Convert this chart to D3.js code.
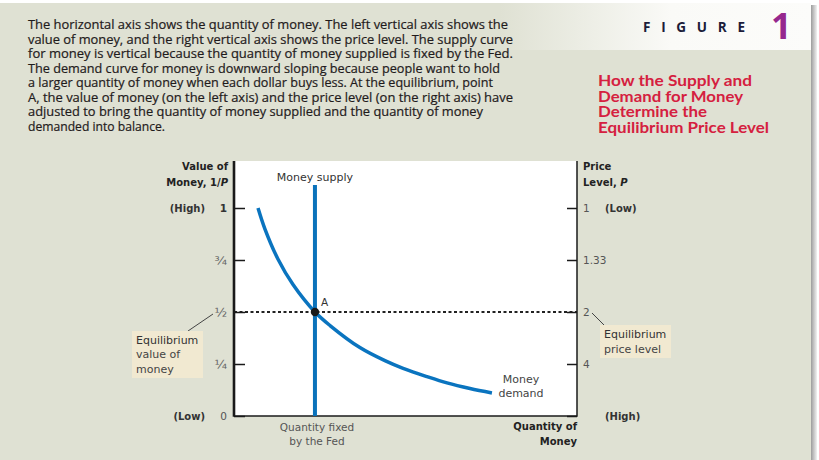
<!DOCTYPE html>
<html>
<head>
<meta charset="utf-8">
<script src="https://cdn.jsdelivr.net/npm/d3@7"></script>
<style>
  html, body { margin: 0; padding: 0; background: #ffffff; }
  svg { display: block; }
</style>
</head>
<body>
<script>
// ---------- DATA ----------
const demandQ = [7.0, 9.0, 12.8, 17.2, 23.6, 28.0, 36.7, 44.0, 49.3, 56.3, 62.1, 68.8, 75.2];
const demandV = [1.0, 0.90, 0.755, 0.632, 0.5, 0.435, 0.329, 0.266, 0.229, 0.189, 0.159, 0.132, 0.111];
const supplyQ = 23.6;
const supplyTopV = 1.11;
const equilibriumV = 0.5;
const leftTickValues = [0, 0.25, 0.5, 0.75, 1];
const leftTickLabels = ["0", "\u00BC", "\u00BD", "\u00BE", "1"];
const rightTickLabels = ["", "4", "2", "1.33", "1"];
const descLines = [
  "The horizontal axis shows the quantity of money. The left vertical axis shows the",
  "value of money, and the right vertical axis shows the price level. The supply curve",
  "for money is vertical because the quantity of money supplied is fixed by the Fed.",
  "The demand curve for money is downward sloping because people want to hold",
  "a larger quantity of money when each dollar buys less. At the equilibrium, point",
  "A, the value of money (on the left axis) and the price level (on the right axis) have",
  "adjusted to bring the quantity of money supplied and the quantity of money",
  "demanded into balance."
];
const descLineEnds = [508, 513, 513, 500, 493, 513, 483, 165];
const titleLines = ["How the Supply and", "Demand for Money", "Determine the", "Equilibrium Price Level"];
const titleLineEnds = [752, 743, 707, 769];

// ---------- SETUP ----------
const W = 819, H = 460;
const svg = d3.select("body").append("svg").attr("width", W).attr("height", H);
const defs = svg.append("defs");
const hg = defs.append("linearGradient").attr("id", "hdr").attr("x1", "0").attr("x2", "1").attr("y1", "0").attr("y2", "0");
hg.append("stop").attr("offset", "0").attr("stop-color", "#dfe1d3");
hg.append("stop").attr("offset", "0.55").attr("stop-color", "#fafaf7");
hg.append("stop").attr("offset", "1").attr("stop-color", "#fcfcfa");
const sg = defs.append("linearGradient").attr("id", "shd").attr("x1", "0").attr("x2", "1").attr("y1", "0").attr("y2", "0");
sg.append("stop").attr("offset", "0").attr("stop-color", "#9c9c9c");
sg.append("stop").attr("offset", "1").attr("stop-color", "#f2f2f2");

svg.append("rect").attr("x", 0).attr("y", 0).attr("width", W).attr("height", H).attr("fill", "#ffffff");
svg.append("rect").attr("x", 0).attr("y", 3).attr("width", 811).attr("height", H - 3).attr("fill", "#dfe1d3");
svg.append("rect").attr("x", 500).attr("y", 3).attr("width", 311).attr("height", 47).attr("fill", "url(#hdr)");
svg.append("rect").attr("x", 811).attr("y", 5).attr("width", 6).attr("height", H - 5).attr("fill", "url(#shd)");

// ---------- HEADER TEXT ----------
const desc = svg.append("g").attr("font-family", "'Open Sans', 'Noto Sans', sans-serif")
  .attr("font-size", 12.2).attr("fill", "#1f1b1c").attr("stroke", "#1f1b1c").attr("stroke-width", 0.2);
descLines.forEach((t, i) => {
  desc.append("text").attr("x", 28).attr("y", 29 + i * 14.57)
    .attr("textLength", descLineEnds[i] - 28).attr("lengthAdjust", "spacingAndGlyphs").text(t);
});

svg.append("text").attr("x", 643).attr("y", 32)
  .attr("font-family", "'Open Sans', sans-serif").attr("font-weight", "bold").attr("font-size", 13.5)
  .attr("fill", "#1c1c3a").attr("textLength", 102).attr("lengthAdjust", "spacing").text("FIGURE");
svg.append("text").attr("x", 771).attr("y", 39)
  .attr("font-family", "'Open Sans', sans-serif").attr("font-weight", "bold").attr("font-size", 36)
  .attr("fill", "#96288e").text("1");

const ttl = svg.append("g").attr("font-family", "Lato, 'Open Sans', sans-serif")
  .attr("font-weight", "bold").attr("font-size", 14.5).attr("fill", "#d5203f");
titleLines.forEach((t, i) => {
  ttl.append("text").attr("x", 598).attr("y", 86 + i * 15.5)
    .attr("textLength", titleLineEnds[i] - 598).attr("lengthAdjust", "spacingAndGlyphs").text(t);
});

// ---------- SCALES ----------
const x = d3.scaleLinear().domain([0, 100]).range([234, 577]);
const y = d3.scaleLinear().domain([0, 1]).range([416, 208]);
const yTopV = 1.226;

// plot background
svg.append("rect").attr("x", x(0)).attr("y", y(yTopV))
  .attr("width", x(100) - x(0)).attr("height", y(0) - y(yTopV)).attr("fill", "#ffffff");

// annotation boxes (behind their text)
svg.append("line").attr("x1", 188).attr("y1", 331).attr("x2", 213).attr("y2", 314)
  .attr("stroke", "#444").attr("stroke-width", 1);
svg.append("rect").attr("x", 132).attr("y", 331).attr("width", 71).attr("height", 47).attr("fill", "#f1e9d1");
svg.append("line").attr("x1", 592).attr("y1", 313).attr("x2", 604).attr("y2", 325)
  .attr("stroke", "#444").attr("stroke-width", 1);
svg.append("rect").attr("x", 600).attr("y", 325).attr("width", 71).attr("height", 33).attr("fill", "#f1e9d1");

// dotted equilibrium line
svg.append("line").attr("x1", x(0)).attr("x2", x(100)).attr("y1", y(equilibriumV)).attr("y2", y(equilibriumV))
  .attr("stroke", "#222").attr("stroke-width", 1.8).attr("stroke-dasharray", "3,2.5");

// ---------- AXES ----------
const font = "'DejaVu Sans', Verdana, sans-serif";
const leftAxis = d3.axisLeft(y).tickValues(leftTickValues)
  .tickFormat((d, i) => leftTickLabels[i]).tickSizeInner(-11).tickSizeOuter(0).tickPadding(7);
const gL = svg.append("g").attr("transform", `translate(${x(0)},0)`).call(leftAxis);
gL.select(".domain").remove();
gL.selectAll(".tick line").attr("stroke", "#1a1a1a").attr("stroke-width", 1.5);
gL.selectAll(".tick text").attr("font-family", font).attr("font-size", 10.5).attr("fill", "#555");
gL.selectAll(".tick text").filter((d) => d > 0 && d < 1).attr("font-size", 13).attr("fill", "#666");
gL.selectAll(".tick text").filter((d) => d === 1).attr("font-weight", "bold").attr("fill", "#333");

const rightAxis = d3.axisRight(y).tickValues(leftTickValues)
  .tickFormat((d, i) => rightTickLabels[i]).tickSizeInner(-10).tickSizeOuter(0).tickPadding(6);
const gR = svg.append("g").attr("transform", `translate(${x(100)},0)`).call(rightAxis);
gR.select(".domain").remove();
gR.selectAll(".tick line").attr("stroke", "#1a1a1a").attr("stroke-width", 1.5);
gR.selectAll(".tick text").attr("font-family", font).attr("font-size", 10.5).attr("fill", "#555");

// axis lines
svg.append("line").attr("x1", x(0)).attr("x2", x(0)).attr("y1", y(yTopV)).attr("y2", y(0) + 0.75)
  .attr("stroke", "#1a1a1a").attr("stroke-width", 2.6);
svg.append("line").attr("x1", x(100)).attr("x2", x(100)).attr("y1", y(yTopV)).attr("y2", y(0) + 0.75)
  .attr("stroke", "#1a1a1a").attr("stroke-width", 1.5);
svg.append("line").attr("x1", x(0)).attr("x2", x(100)).attr("y1", y(0)).attr("y2", y(0))
  .attr("stroke", "#1a1a1a").attr("stroke-width", 1.5);

// ---------- CURVES ----------
svg.append("line").attr("x1", x(supplyQ)).attr("x2", x(supplyQ)).attr("y1", y(supplyTopV)).attr("y2", y(0))
  .attr("stroke", "#0a72bb").attr("stroke-width", 4);

const demand = demandQ.map((q, i) => [q, demandV[i]]);
svg.append("path").datum(demand)
  .attr("d", d3.line().x(d => x(d[0])).y(d => y(d[1])).curve(d3.curveCatmullRom.alpha(0.5)))
  .attr("fill", "none").attr("stroke", "#0a74bf").attr("stroke-width", 3.5);

svg.append("circle").attr("cx", x(supplyQ)).attr("cy", y(equilibriumV)).attr("r", 4.2).attr("fill", "#1a1a1a");
svg.append("text").attr("x", x(supplyQ) + 6).attr("y", y(equilibriumV) - 6)
  .attr("font-family", font).attr("font-size", 10.5).attr("fill", "#333").text("A");

// ---------- LABELS ----------
const lab = svg.append("g").attr("font-family", font);
function t(xp, yp, s, opts = {}) {
  return lab.append("text").attr("x", xp).attr("y", yp)
    .attr("font-size", opts.size || 10.5)
    .attr("font-weight", opts.bold ? "bold" : "normal")
    .attr("text-anchor", opts.anchor || "start")
    .attr("fill", opts.fill || "#333").text(s);
}
// left axis title
t(228, 170, "Value of", { bold: true, anchor: "end", size: 10, fill: "#222" });
const vm = t(228, 186, "Money, 1/", { bold: true, anchor: "end", size: 10, fill: "#222" });
vm.append("tspan").attr("font-style", "italic").text("P");
// right axis title
t(583, 170, "Price", { bold: true, size: 10, fill: "#222" });
const pl = t(583, 186, "Level, ", { bold: true, size: 10, fill: "#222" });
pl.append("tspan").attr("font-style", "italic").text("P");

t(205, y(1) + 4, "(High)", { bold: true, anchor: "end", size: 10, fill: "#333" });
t(205, y(0) + 4, "(Low)", { bold: true, anchor: "end", size: 10, fill: "#333" });
t(605, y(1) + 4, "(Low)", { bold: true, size: 10, fill: "#333" });
t(605, y(0) + 4, "(High)", { bold: true, size: 10, fill: "#333" });

t(x(supplyQ), 181, "Money supply", { anchor: "middle", size: 11, fill: "#333" });
t(521, 383, "Money", { anchor: "middle", size: 11, fill: "#444" });
t(521, 397, "demand", { anchor: "middle", size: 11, fill: "#444" });
t(317, 431, "Quantity fixed", { anchor: "middle", size: 10.5, fill: "#555" });
t(317, 445, "by the Fed", { anchor: "middle", size: 10.5, fill: "#555" });
t(577, 430, "Quantity of", { anchor: "end", bold: true, size: 10, fill: "#222" });
t(577, 445, "Money", { anchor: "end", bold: true, size: 10, fill: "#222" });

t(136, 344, "Equilibrium", { size: 11, fill: "#333" });
t(136, 358, "value of", { size: 11, fill: "#444" });
t(136, 373, "money", { size: 11, fill: "#444" });
t(604, 338, "Equilibrium", { size: 11, fill: "#333" });
t(604, 353, "price level", { size: 11, fill: "#444" });
</script>
</body>
</html>
